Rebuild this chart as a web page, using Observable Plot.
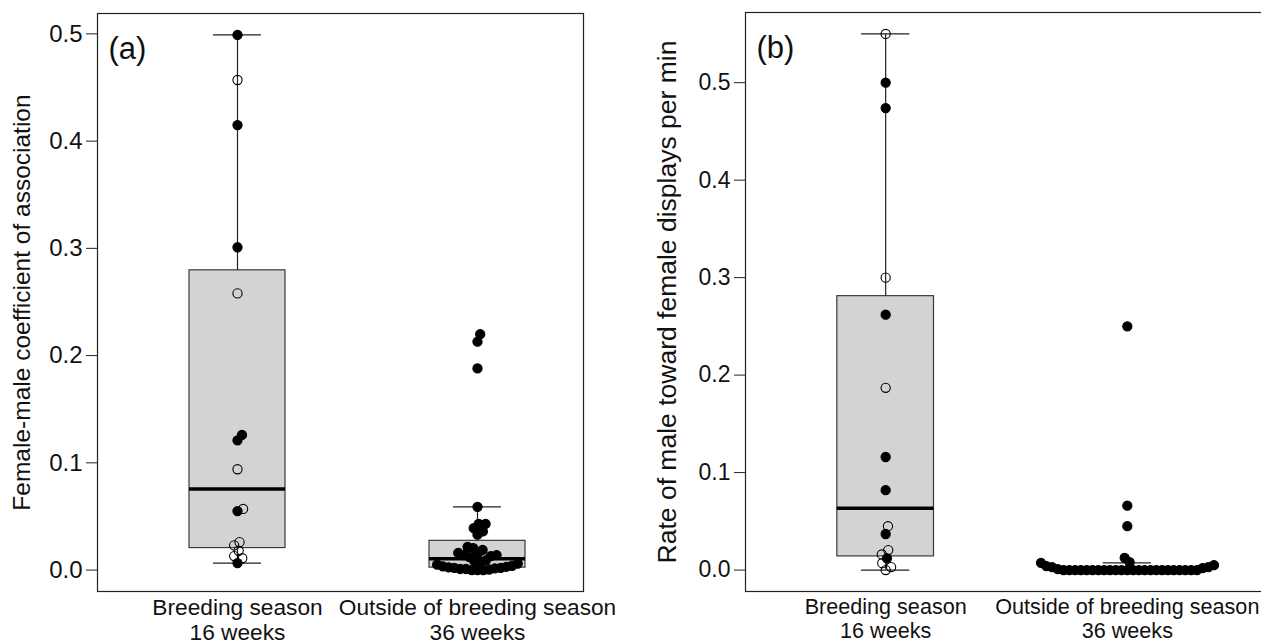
<!DOCTYPE html>
<html>
<head>
<meta charset="utf-8">
<script src="https://cdn.jsdelivr.net/npm/d3@7"></script>
<script src="https://cdn.jsdelivr.net/npm/@observablehq/plot@0.6"></script>
<style>
  html, body { margin: 0; padding: 0; background: #fff; }
  #wrap { display: flex; width: 1261px; height: 644px; overflow: hidden; }
  #wrap svg { max-width: none; flex: none; }
</style>
</head>
<body>
<div id="wrap"></div>
<script>
// ---- data ----
const catPos = [1, 2];
const catNames = ["Breeding season", "Outside of breeding season"];
const catWeeks = ["16 weeks", "36 weeks"];
const yTicks = [0, 0.1, 0.2, 0.3, 0.4, 0.5];

// panel (a): female-male coefficient of association
const aBreedVals = [0.499, 0.457, 0.415, 0.301, 0.258, 0.126, 0.121, 0.094, 0.057, 0.055, 0.026, 0.023, 0.018, 0.013, 0.011, 0.0065];
const aBreedFilled = [1, 0, 1, 1, 0, 1, 1, 0, 0, 1, 0, 0, 0, 0, 0, 1];
const aOutVals = [0.220, 0.213, 0.188, 0.059, 0.043, 0.043, 0.039, 0.036, 0.033, 0.0215, 0.0205, 0.0187,
  0.016, 0.015, 0.014, 0.014, 0.013, 0.012, 0.009, 0.008,
  0.007, 0.006, 0.005, 0.004, 0.0035, 0.003, 0.0025, 0.002, 0.002, 0.0015, 0.001, 0.001, 0.0005, 0, 0, 0];
const aOutFilled = [1,1,1,1,1,1,1,1,1,1,1,1,1,1,1,1,1,1,1,1,1,1,1,1,1,1,1,1,1,1,1,1,1,1,1,1];

// panel (b): rate of male toward female displays per min
const bBreedVals = [0.55, 0.50, 0.474, 0.30, 0.262, 0.187, 0.116, 0.082, 0.045, 0.037, 0.0205, 0.016, 0.012, 0.007, 0.003, 0];
const bBreedFilled = [0, 1, 1, 0, 1, 0, 1, 1, 0, 1, 0, 0, 1, 0, 0, 0];
const bOutVals = [0.25, 0.066, 0.045, 0.0125, 0.008, 0.0074, 0.005, 0.004, 0.003, 0.003, 0.002, 0.001,
  0, 0, 0, 0, 0, 0, 0, 0, 0, 0, 0, 0, 0, 0, 0, 0, 0, 0, 0, 0, 0, 0, 0, 0];
const bOutFilled = [1,1,1,1,1,1,1,1,1,1,1,1,1,1,1,1,1,1,1,1,1,1,1,1,1,1,1,1,1,1,1,1,1,1,1,1];

// ---- helpers ----
function fivenum(v) {
  const s = [...v].sort(d3.ascending), n = s.length;
  const n4 = Math.floor((n + 3) / 2) / 2;
  const d = [1, n4, (n + 1) / 2, n + 1 - n4, n];
  return d.map(k => 0.5 * (s[Math.floor(k) - 1] + s[Math.ceil(k) - 1]));
}
function boxStats(v, pos) {
  const [, q1, med, q3] = fivenum(v);
  const iqr = q3 - q1;
  const lo = d3.min(v.filter(x => x >= q1 - 1.5 * iqr - 1e-12));
  const hi = d3.max(v.filter(x => x <= q3 + 1.5 * iqr + 1e-12));
  return {pos, q1, med, q3, lo, hi};
}
// beeswarm-like placement in pixel space (anisotropic spacing xs, ys)
function swarm(values, yPx, xs, ys) {
  const order = d3.range(values.length).sort((a, b) => values[a] - values[b]);
  const placed = [], off = new Array(values.length);
  for (const i of order) {
    const y = yPx(values[i]);
    const near = placed.filter(p => Math.abs(p.y - y) < ys);
    const cands = [0];
    for (const p of near) {
      const dx = xs * Math.sqrt(1 - ((p.y - y) / ys) ** 2);
      cands.push(p.x + dx, p.x - dx);
    }
    const valid = cands.filter(c => near.every(p => ((p.x - c) / xs) ** 2 + ((p.y - y) / ys) ** 2 >= 1 - 1e-6));
    valid.sort((a, b) => Math.abs(a) - Math.abs(b));
    const x = valid[0];
    placed.push({x, y});
    off[i] = x;
  }
  return off;
}

const FONT = "Liberation Sans, Arial, Helvetica, sans-serif";

function panel(cfg) {
  const {width, height, marginLeft, marginRight, marginTop, marginBottom, xDomain, yDomain, groups,
         yLabel, tag, titleDx, tickFont, titleFont, catFont, tagFont} = cfg;
  const yPx = d3.scaleLinear().domain(yDomain).range([height - marginBottom, marginTop]);
  const pxPerX = (width - marginLeft - marginRight) / (xDomain[1] - xDomain[0]);
  const stats = groups.map((g, i) => boxStats(g.vals, catPos[i]));
  const pts = [];
  groups.forEach((g, i) => {
    const off = swarm(g.vals, yPx, 5.8, 8.5);
    g.vals.forEach((v, j) => pts.push({x: catPos[i] + off[j] / pxPerX, y: v, filled: g.filled[j]}));
  });
  const hw = 0.2, sw = 0.1;
  const cats = catPos.map((p, i) => ({pos: p, label: catNames[i] + "\n" + catWeeks[i]}));
  return Plot.plot({
    width, height, marginLeft, marginRight, marginTop, marginBottom,
    style: {fontFamily: FONT, background: "white", overflow: "visible"},
    x: {type: "linear", domain: xDomain, axis: null},
    y: {domain: yDomain, axis: null},
    marks: [
      Plot.rect(stats, {x1: d => d.pos - hw, x2: d => d.pos + hw, y1: "q1", y2: "q3", fill: "#d3d3d3", stroke: "#3a3a3a", strokeWidth: 1.2}),
      Plot.ruleX(stats, {x: "pos", y1: "q3", y2: "hi", stroke: "#222", strokeWidth: 1.2}),
      Plot.ruleX(stats, {x: "pos", y1: "lo", y2: "q1", stroke: "#222", strokeWidth: 1.2}),
      Plot.ruleY(stats, {y: "hi", x1: d => d.pos - sw, x2: d => d.pos + sw, stroke: "#222", strokeWidth: 1.2}),
      Plot.ruleY(stats, {y: "lo", x1: d => d.pos - sw, x2: d => d.pos + sw, stroke: "#222", strokeWidth: 1.2}),
      Plot.ruleY(stats, {y: "med", x1: d => d.pos - hw, x2: d => d.pos + hw, stroke: "#000", strokeWidth: 3.5}),
      Plot.dot(pts, {x: "x", y: "y", r: 4.6, fill: d => d.filled ? "#000" : "none", stroke: "#000", strokeWidth: 1.1}),
      Plot.frame({stroke: "#222", strokeWidth: 1.2}),
      Plot.axisY({ticks: yTicks, tickFormat: ".1f", tickSize: 11, tickPadding: 4, fontSize: tickFont, label: null, stroke: "#222", color: "#111"}),
      Plot.text(cats, {x: "pos", text: "label", frameAnchor: "bottom", lineAnchor: "top", dy: 6, fontSize: catFont, lineHeight: 1.1, fill: "#111"}),
      Plot.text([yLabel], {frameAnchor: "left", text: d => d, rotate: -90, textAnchor: "middle", lineAnchor: "middle", dx: titleDx, fontSize: titleFont, fill: "#111"}),
      Plot.text([tag], {frameAnchor: "top-left", text: d => d, textAnchor: "start", lineAnchor: "top", dx: 11, dy: 23, fontSize: tagFont, fill: "#111"})
    ]
  });
}

const wrap = document.getElementById("wrap");
wrap.appendChild(panel({
  width: 630, height: 644, marginLeft: 97, marginRight: 47, marginTop: 13, marginBottom: 53,
  xDomain: [0.4167, 2.4417], yDomain: [-0.02, 0.519],
  groups: [{vals: aBreedVals, filled: aBreedFilled}, {vals: aOutVals, filled: aOutFilled}],
  yLabel: "Female-male coefficient of association", tag: "(a)", titleDx: -75,
  tickFont: 24, titleFont: 24.5, catFont: 22.7, tagFont: 31
}));
wrap.appendChild(panel({
  width: 631, height: 644, marginLeft: 115, marginRight: -6, marginTop: 12, marginBottom: 53,
  xDomain: [0.42, 2.58], yDomain: [-0.022, 0.572],
  groups: [{vals: bBreedVals, filled: bBreedFilled}, {vals: bOutVals, filled: bOutFilled}],
  yLabel: "Rate of male toward female displays per min", tag: "(b)", titleDx: -78,
  tickFont: 23, titleFont: 26.5, catFont: 21.6, tagFont: 31
}));
</script>
</body>
</html>
